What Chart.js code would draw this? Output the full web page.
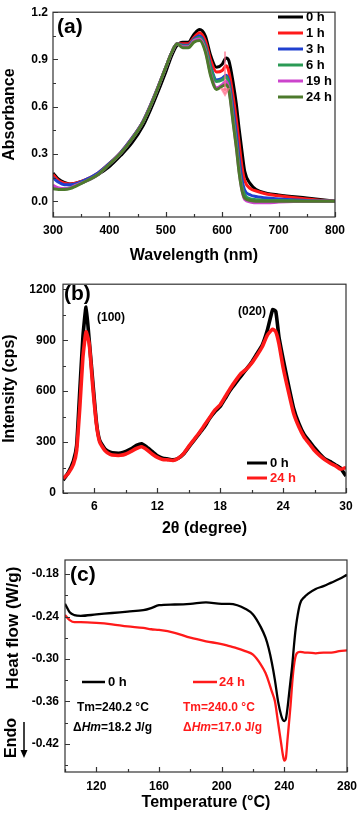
<!DOCTYPE html>
<html>
<head>
<meta charset="utf-8">
<script src="https://cdn.jsdelivr.net/npm/chart.js@4.4.1/dist/chart.umd.min.js"></script>
<style>
    html, body { margin: 0; padding: 0; background: #fff; }
    #wrap { position: relative; width: 364px; height: 815px; overflow: hidden; }
    canvas { position: absolute; left: 0; }
</style>
</head>
<body>
<div id="wrap">
    <canvas id="chartA" width="364" height="270" style="top:0px"></canvas>
    <canvas id="chartB" width="364" height="270" style="top:270px"></canvas>
    <canvas id="chartC" width="364" height="275" style="top:540px"></canvas>
</div>
<script>
// ===== DATA: (a) UV-vis =====
const wavelengths = [300, 310, 320, 330, 340, 360, 380, 400, 420, 440, 460, 480, 500, 510, 520, 530, 540, 550, 560, 570,
    580, 590, 600, 607, 612, 620, 625, 630, 635, 640, 650, 660, 680, 700, 750, 800];
const abs0h = [0.18, 0.14, 0.12, 0.11, 0.115, 0.135, 0.17, 0.22, 0.29, 0.37, 0.48, 0.64, 0.82, 0.92, 0.99, 1.01, 1.01, 1.06, 1.09, 1.05,
    0.92, 0.85, 0.87, 0.91, 0.89, 0.74, 0.62, 0.46, 0.32, 0.19, 0.11, 0.075, 0.05, 0.04, 0.02, 0.0];
const abs1h = [0.17, 0.13, 0.115, 0.11, 0.115, 0.14, 0.18, 0.24, 0.31, 0.40, 0.51, 0.67, 0.85, 0.94, 1.0, 1.0, 1.0, 1.04, 1.07, 1.02,
    0.89, 0.82, 0.83, 0.86, 0.82, 0.65, 0.52, 0.37, 0.22, 0.13, 0.08, 0.065, 0.045, 0.035, 0.015, 0.0];
const abs3h = [0.15, 0.12, 0.105, 0.105, 0.11, 0.14, 0.18, 0.24, 0.31, 0.40, 0.51, 0.67, 0.85, 0.94, 1.0, 0.99, 0.99, 1.03, 1.05, 0.99,
    0.85, 0.77, 0.78, 0.80, 0.76, 0.57, 0.43, 0.27, 0.14, 0.07, 0.04, 0.03, 0.02, 0.015, 0.005, 0.0];
const abs6h = [0.09, 0.08, 0.08, 0.085, 0.10, 0.13, 0.17, 0.235, 0.305, 0.395, 0.505, 0.665, 0.85, 0.94, 1.0, 0.985, 0.985, 1.025, 1.04, 0.98,
    0.84, 0.76, 0.77, 0.79, 0.74, 0.52, 0.38, 0.22, 0.10, 0.04, 0.015, 0.01, 0.005, 0.005, 0.0, 0.0];
const abs19h = [0.10, 0.085, 0.08, 0.085, 0.10, 0.13, 0.17, 0.235, 0.305, 0.395, 0.505, 0.665, 0.85, 0.94, 1.0, 0.98, 0.98, 1.02, 1.03, 0.96,
    0.80, 0.72, 0.74, 0.76, 0.71, 0.49, 0.35, 0.19, 0.07, 0.01, -0.005, -0.01, -0.01, -0.005, 0.0, 0.0];
const abs24h = [0.08, 0.075, 0.075, 0.08, 0.095, 0.13, 0.17, 0.235, 0.305, 0.395, 0.505, 0.665, 0.85, 0.94, 1.0, 0.975, 0.975, 1.01, 1.02, 0.95,
    0.79, 0.71, 0.73, 0.74, 0.70, 0.48, 0.34, 0.18, 0.07, 0.02, 0.005, 0.0, 0.0, 0.0, 0.0, 0.0];
const absLabels = ["0 h", "1 h", "3 h", "6 h", "19 h", "24 h"];
const arrowWl = [605, 605];
const arrowAbs = [0.95, 0.70];
const wlTicks = [300, 400, 500, 600, 700, 800];
const absTicks = [0, 0.3, 0.6, 0.9, 1.2];

// ===== DATA: (b) XRD =====
const twoTheta = [3, 3.5, 4, 4.3, 4.6, 4.9, 5.2, 5.5, 5.85, 6.2, 6.5, 7, 7.5, 8, 8.5, 9, 9.5, 10, 10.5, 11,
    11.5, 12, 12.5, 13, 13.5, 14, 14.5, 15, 15.5, 16, 16.5, 17, 17.5, 18, 18.5, 19, 19.5, 20, 20.5, 21,
    21.5, 22, 22.5, 23, 23.3, 23.6, 24, 24.5, 25, 25.5, 26, 26.5, 27, 27.5, 28, 28.5, 29, 29.5, 30];
const xrd0h = [75, 120, 190, 280, 600, 920, 1095, 900, 650, 410, 310, 260, 240, 235, 235, 245, 260, 280, 290, 270,
    245, 220, 205, 200, 195, 205, 230, 270, 310, 350, 390, 440, 480, 510, 560, 610, 650, 690, 730, 770,
    820, 870, 960, 1080, 1070, 920, 790, 640, 500, 410, 345, 305, 265, 230, 200, 185, 165, 145, 100];
const xrd24h = [85, 115, 170, 250, 500, 800, 950, 880, 620, 400, 300, 250, 228, 222, 222, 230, 245, 262, 272, 255,
    230, 210, 198, 195, 192, 205, 232, 275, 315, 355, 400, 445, 490, 520, 570, 620, 665, 705, 730, 765,
    810, 860, 930, 965, 950, 880, 740, 600, 470, 390, 330, 290, 250, 220, 195, 175, 160, 140, 150];
const thetaTicks = [6, 12, 18, 24, 30];
const cpsTicks = [0, 300, 600, 900, 1200];

// ===== DATA: (c) DSC =====
const temps = [100, 103, 106, 110, 120, 130, 140, 150, 155, 160, 170, 180, 190, 200, 205, 210, 215, 220, 225,
    228, 230, 232, 234, 236, 238, 239, 240, 241, 242, 243, 244, 245, 246, 247, 248,
    250, 253, 255, 260, 265, 270, 275, 280];
const dsc0h = [-0.222, -0.234, -0.238, -0.239, -0.237, -0.235, -0.233, -0.231, -0.228, -0.224, -0.223, -0.222, -0.220, -0.222, -0.222, -0.224, -0.229, -0.237, -0.255,
    -0.270, -0.285, -0.305, -0.330, -0.360, -0.380, -0.386, -0.388, -0.385, -0.370, -0.350, -0.330, -0.310, -0.285, -0.262, -0.245,
    -0.222, -0.212, -0.208, -0.201, -0.197, -0.192, -0.187, -0.181];
const dsc24h = [-0.238, -0.245, -0.248, -0.248, -0.249, -0.251, -0.254, -0.256, -0.258, -0.259, -0.263, -0.270, -0.275, -0.279, -0.282, -0.285, -0.289, -0.294, -0.308,
    -0.320, -0.332, -0.346, -0.360, -0.390, -0.420, -0.435, -0.444, -0.440, -0.415, -0.390, -0.365, -0.335, -0.312, -0.298, -0.292,
    -0.290, -0.291, -0.291, -0.292, -0.291, -0.291, -0.289, -0.288];
const tempTicks = [120, 160, 200, 240, 280];
const flowTicks = [-0.42, -0.36, -0.30, -0.24, -0.18];

// ===== STYLE =====
const FONT = "'Liberation Sans', Arial, sans-serif";
const RED = "#ff1a1a";
const absColors = ["#000000", RED, "#2040d0", "#2a9a55", "#cc44cc", "#4d7a2c"];
Chart.defaults.font.family = FONT;
Chart.defaults.color = "#000";

function pts(xs, ys) {
    return xs.map((x, i) => ({ x: x, y: ys[i] }));
}

function tickLoop(scale, step, major, cb) {
    const k0 = Math.ceil(scale.min / step - 1e-9);
    for (let k = k0; k * step <= scale.max + 1e-9; k++) {
        const v = k * step;
        const isMajor = Math.abs(v / major - Math.round(v / major)) < 1e-6;
        cb(Math.round(scale.getPixelForValue(v)) + 0.5, isMajor);
    }
}

// frame, inward ticks, texts and legends
const framePlugin = {
    id: "frame",
    afterDraw(chart, args, o) {
        const ctx = chart.ctx, a = chart.chartArea;
        ctx.save();
        ctx.strokeStyle = "#333";
        ctx.lineWidth = 1.2;
        ctx.strokeRect(a.left, a.top, a.right - a.left, a.bottom - a.top);
        ctx.beginPath();
        tickLoop(chart.scales.x, o.xMinor, o.xMajor, (px, m) => {
            ctx.moveTo(px, a.bottom); ctx.lineTo(px, a.bottom - (m ? 5 : 3));
        });
        tickLoop(chart.scales.y, o.yMinor, o.yMajor, (py, m) => {
            ctx.moveTo(a.left, py); ctx.lineTo(a.left + (m ? 5 : 3), py);
        });
        ctx.stroke();

        (o.lines || []).forEach(l => {
            ctx.strokeStyle = l.color;
            ctx.lineWidth = l.width || 3;
            ctx.beginPath();
            ctx.moveTo(l.x1, l.y); ctx.lineTo(l.x2, l.y);
            ctx.stroke();
        });

        ctx.textBaseline = "middle";
        (o.texts || []).forEach(t => {
            ctx.save();
            ctx.translate(t.x, t.y);
            if (t.rot) ctx.rotate(t.rot);
            let total = 0;
            t.parts.forEach(p => { ctx.font = p[1]; total += ctx.measureText(p[0]).width; });
            let x = t.center ? -total / 2 : 0;
            ctx.fillStyle = t.color || "#000";
            t.parts.forEach(p => {
                ctx.font = p[1];
                ctx.textAlign = "left";
                ctx.fillText(p[0], x, 0);
                x += ctx.measureText(p[0]).width;
            });
            ctx.restore();
        });

        if (o.arrow) {
            const r = o.arrow;
            ctx.strokeStyle = "#000";
            ctx.fillStyle = "#000";
            ctx.lineWidth = 1.5;
            ctx.beginPath();
            ctx.moveTo(r.x, r.y1); ctx.lineTo(r.x, r.y2 - 6);
            ctx.stroke();
            ctx.beginPath();
            ctx.moveTo(r.x - 3.5, r.y2 - 8); ctx.lineTo(r.x + 3.5, r.y2 - 8); ctx.lineTo(r.x, r.y2);
            ctx.closePath();
            ctx.fill();
        }
        ctx.restore();
    }
};

function axis(min, max, ticks, fmt, size, side, pad, title, titlePad) {
    const ax = {
        type: "linear",
        min: min,
        max: max,
        afterBuildTicks: s => { s.ticks = ticks.map(v => ({ value: v })); },
        grid: { display: false, drawTicks: false },
        border: { display: false },
        ticks: { autoSkip: false, padding: pad, color: "#000", font: { size: 12, weight: "bold" }, callback: fmt },
        title: { display: !!title, text: title, color: "#000", font: { size: 16, weight: "bold" }, padding: titlePad || 0 }
    };
    if (side === "x") ax.afterFit = s => { s.height = size; };
    else ax.afterFit = s => { s.width = size; };
    return ax;
}

function baseOptions(pad, scales, frame) {
    return {
        responsive: false,
        animation: false,
        devicePixelRatio: 1,
        layout: { padding: pad },
        plugins: { legend: { display: false }, tooltip: { enabled: false }, frame: frame },
        scales: scales
    };
}

const B12 = "bold 12px " + FONT;
const B13 = "bold 13px " + FONT;
const BI12 = "italic bold 12px " + FONT;

document.addEventListener("DOMContentLoaded", function () {
    // ===== (a) ABSORBANCE =====
    const absSeries = [abs0h, abs1h, abs3h, abs6h, abs19h, abs24h];
    const dsA = absSeries.map((s, i) => ({
        label: absLabels[i],
        data: pts(wavelengths, s),
        borderColor: absColors[i],
        borderWidth: 3,
        pointRadius: 0,
        cubicInterpolationMode: "monotone",
        order: 7 - i
    }));
    dsA.push({
        label: "arrow",
        data: pts(arrowWl, arrowAbs),
        borderColor: "rgba(255,110,140,0.65)",
        backgroundColor: "rgba(255,110,140,0.65)",
        borderWidth: 2,
        pointRadius: [0, 4],
        pointStyle: "triangle",
        rotation: 180,
        order: 0
    });
    const legendA = absLabels.map((l, i) => ({ parts: [[l, B13]], x: 306, y: 17 + i * 16 }));
    const legendLinesA = absLabels.map((l, i) => ({ x1: 278, x2: 303, y: 17 + i * 16, color: absColors[i], width: 3 }));
    new Chart(document.getElementById("chartA"), {
        type: "line",
        data: { datasets: dsA },
        options: baseOptions({ top: 7, right: 29, left: 0, bottom: 0 }, {
            x: axis(300, 800, wlTicks, v => v, 53, "x", 6, "Wavelength (nm)", { top: 0, bottom: 5 }),
            y: axis(-0.1, 1.2, absTicks, v => v.toFixed(1), 53, "y", 5, "Absorbance", 0)
        }, {
            xMinor: 50, xMajor: 100, yMinor: 0.15, yMajor: 0.3,
            lines: legendLinesA,
            texts: [{ parts: [["(a)", "bold 21px " + FONT]], x: 57, y: 27 }].concat(legendA)
        }),
        plugins: [framePlugin]
    });

    // ===== (b) XRD =====
    new Chart(document.getElementById("chartB"), {
        type: "line",
        data: {
            datasets: [
                { label: "0 h", data: pts(twoTheta, xrd0h), borderColor: "#000", borderWidth: 3.6, pointRadius: 0, tension: 0.15, order: 2 },
                { label: "24 h", data: pts(twoTheta, xrd24h), borderColor: RED, borderWidth: 3.6, pointRadius: 0, tension: 0.15, order: 1 }
            ]
        },
        options: baseOptions({ top: 14, right: 18, left: 0, bottom: 0 }, {
            x: axis(3, 30, thetaTicks, v => v, 47, "x", 6, "2θ (degree)", { top: 0, bottom: 2 }),
            y: axis(0, 1230, cpsTicks, v => v, 63, "y", 7, "Intensity (cps)", 0)
        }, {
            xMinor: 3, xMajor: 6, yMinor: 150, yMajor: 300,
            lines: [
                { x1: 247, x2: 267, y: 193, color: "#000", width: 3 },
                { x1: 247, x2: 267, y: 208, color: RED, width: 3 }
            ],
            texts: [
                { parts: [["(b)", "bold 21px " + FONT]], x: 64, y: 24 },
                { parts: [["(100)", B12]], x: 97, y: 48 },
                { parts: [["(020)", B12]], x: 238, y: 42 },
                { parts: [["0 h", B13]], x: 270, y: 193 },
                { parts: [["24 h", B13]], x: 270, y: 208, color: RED }
            ]
        }),
        plugins: [framePlugin]
    });

    // ===== (c) DSC =====
    new Chart(document.getElementById("chartC"), {
        type: "line",
        data: {
            datasets: [
                { label: "0 h", data: pts(temps, dsc0h), borderColor: "#000", borderWidth: 2.3, pointRadius: 0, cubicInterpolationMode: "monotone" },
                { label: "24 h", data: pts(temps, dsc24h), borderColor: RED, borderWidth: 2.3, pointRadius: 0, cubicInterpolationMode: "monotone" }
            ]
        },
        options: baseOptions({ top: 20, right: 12, left: 0, bottom: 0 }, {
            x: axis(100, 280, tempTicks, v => v, 43, "x", 7, "Temperature (°C)", { top: 0, bottom: 3 }),
            y: axis(-0.46, -0.16, flowTicks, v => v.toFixed(2), 65, "y", 6, "", 0)
        }, {
            xMinor: 20, xMajor: 40, yMinor: 0.03, yMajor: 0.06,
            lines: [
                { x1: 82, x2: 105, y: 142, color: "#000", width: 2.5 },
                { x1: 193, x2: 217, y: 142, color: RED, width: 2.5 }
            ],
            texts: [
                { parts: [["(c)", "bold 21px " + FONT]], x: 70, y: 35 },
                { parts: [["Heat flow (W/g)", "bold 17px " + FONT]], x: 13, y: 88, rot: -Math.PI / 2, center: true },
                { parts: [["Endo", "bold 16px " + FONT]], x: 12, y: 198, rot: -Math.PI / 2, center: true },
                { parts: [["0 h", B13]], x: 108, y: 142 },
                { parts: [["24 h", B13]], x: 219, y: 142, color: RED },
                { parts: [["Tm=240.2 °C", B12]], x: 77, y: 168 },
                { parts: [["Δ", B12], ["Hm", BI12], ["=18.2 J/g", B12]], x: 73, y: 188 },
                { parts: [["Tm=240.0 °C", B12]], x: 183, y: 168, color: RED },
                { parts: [["Δ", B12], ["Hm", BI12], ["=17.0 J/g", B12]], x: 183, y: 188, color: RED }
            ],
            arrow: { x: 24, y1: 182, y2: 218 }
        }),
        plugins: [framePlugin]
    });
});
</script>
</body>
</html>
